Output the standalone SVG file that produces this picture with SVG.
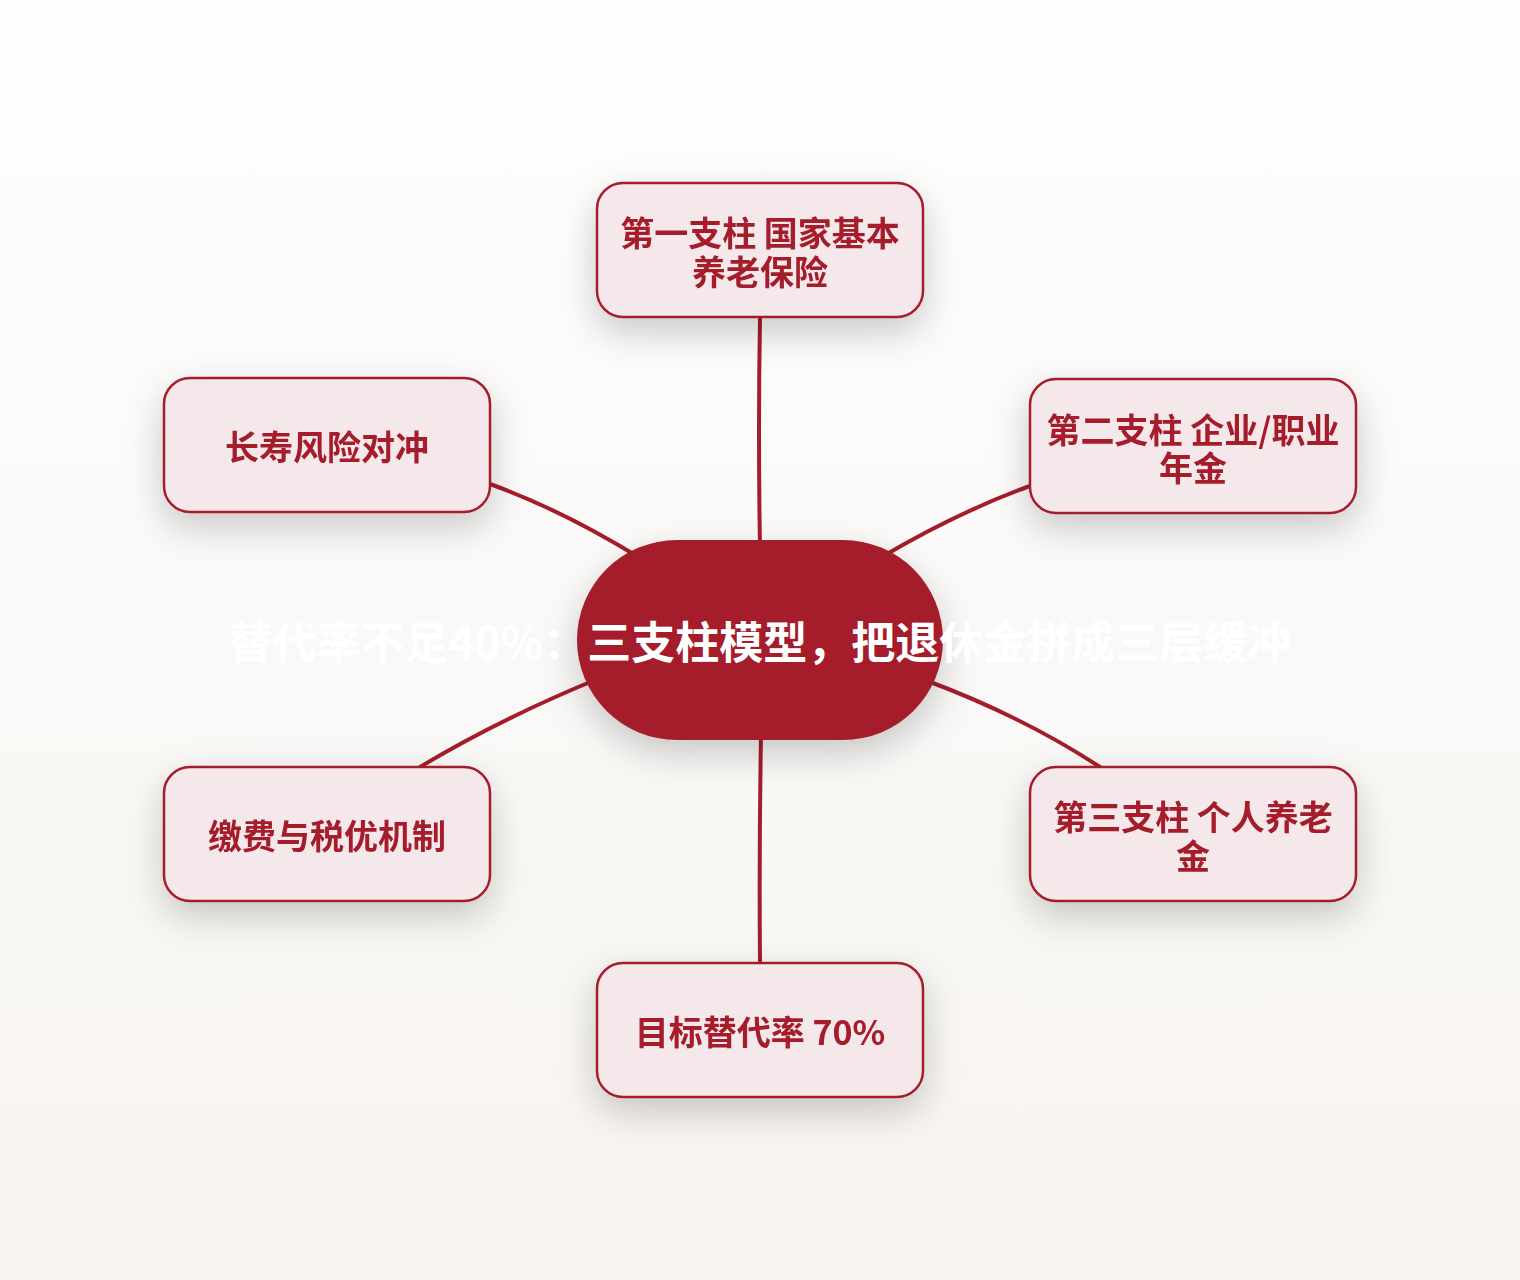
<svg xmlns="http://www.w3.org/2000/svg" width="1520" height="1280" viewBox="0 0 1520 1280">
<defs>
<linearGradient id="bg" x1="0" y1="0" x2="0" y2="1">
<stop offset="0" stop-color="#FEFEFE"/>
<stop offset="1" stop-color="#F7F4F0"/>
</linearGradient>
<filter id="sh" x="-40%" y="-40%" width="180%" height="190%">
<feDropShadow dx="0" dy="14" stdDeviation="18" flood-color="#000" flood-opacity="0.2"/>
</filter>
<style>
.node rect{fill:#F5E8EA;stroke:#A51C2B;stroke-width:2.5}
.lbl{font-family:"Noto Sans CJK SC","Liberation Sans",sans-serif;font-weight:700;font-size:34px;fill:#A51C2B;text-anchor:middle}
.conn path{fill:none;stroke:#A51C2B;stroke-width:4;stroke-linecap:round}
.center rect{fill:#A51C2B}
.ctext{font-family:"Noto Sans CJK SC","Liberation Sans",sans-serif;font-weight:700;font-size:44px;fill:#FFFFFF;text-anchor:middle}
</style>
</defs>
<rect x="0" y="0" width="1520" height="1280" fill="url(#bg)"/>
<g id="connectors" class="conn">
<path d="M490,484 Q562,510 640,558"/>
<path d="M1030,486 Q958,512 880,558"/>
<path d="M420,767 Q498,720 595,680"/>
<path d="M1100,767 Q1022,716 925,680"/>
<path d="M760,317 Q758,430 760,548"/>
<path d="M761,735 Q759,850 760,963"/>
</g>
<g id="center" class="center" filter="url(#sh)">
<rect x="577" y="540" width="366" height="200" rx="100" ry="100"/>
</g>
<g id="n1" class="node" filter="url(#sh)">
<rect x="597" y="183" width="326" height="134" rx="26"/>
<text class="lbl" x="760" y="246">第一支柱 国家基本</text>
<text class="lbl" x="760" y="285">养老保险</text>
</g>
<g id="n2" class="node" filter="url(#sh)">
<rect x="1030" y="379" width="326" height="134" rx="26"/>
<text class="lbl" x="1193" y="443">第二支柱 企业/职业</text>
<text class="lbl" x="1193" y="481">年金</text>
</g>
<g id="n3" class="node" filter="url(#sh)">
<rect x="1030" y="767" width="326" height="134" rx="26"/>
<text class="lbl" x="1193" y="830">第三支柱 个人养老</text>
<text class="lbl" x="1193" y="869">金</text>
</g>
<g id="n4" class="node" filter="url(#sh)">
<rect x="597" y="963" width="326" height="134" rx="26"/>
<text class="lbl" x="760" y="1045">目标替代率 70%</text>
</g>
<g id="n5" class="node" filter="url(#sh)">
<rect x="164" y="767" width="326" height="134" rx="26"/>
<text class="lbl" x="327" y="849">缴费与税优机制</text>
</g>
<g id="n6" class="node" filter="url(#sh)">
<rect x="164" y="378" width="326" height="134" rx="26"/>
<text class="lbl" x="327" y="460">长寿风险对冲</text>
</g>
<text class="ctext" x="760" y="659">替代率不足40%：三支柱模型，把退休金拼成三层缓冲</text>
</svg>
